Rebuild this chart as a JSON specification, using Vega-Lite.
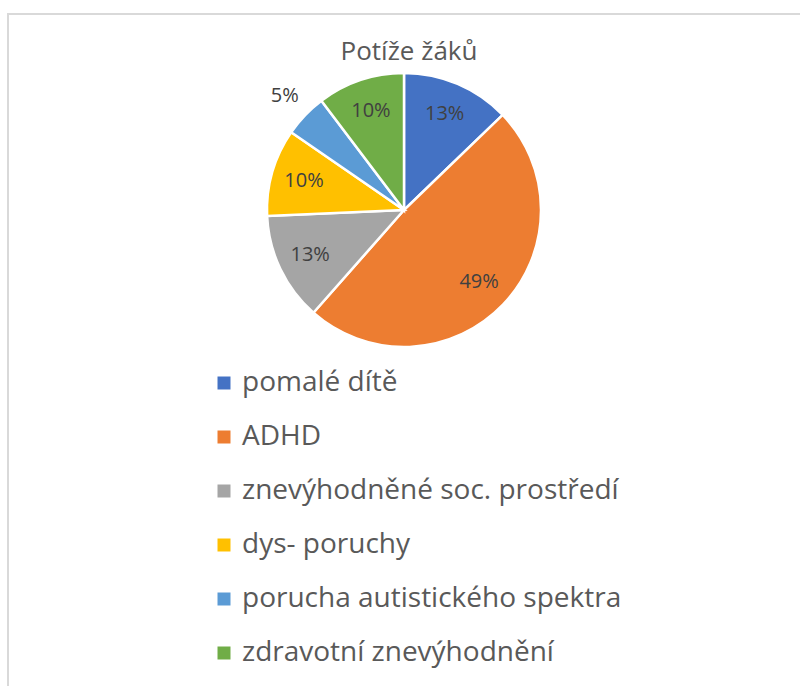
{
  "$schema": "https://vega.github.io/schema/vega-lite/v6.json",
  "width": 792,
  "height": 392,
  "autosize": {"type": "none"},
  "padding": {"left": 8, "top": 14, "right": 2, "bottom": 280},
  "background": "white",
  "view": {"stroke": "#d9d9d9", "strokeWidth": 2, "strokeDash": [792, 1184, 392]},
  "config": {
    "font": "Open Sans",
    "legend": {"strokeColor": "#d9d9d9", "strokeWidth": 2, "strokeDash": [0, 830, 10000]}
  },
  "title": {
    "text": "Potíže žáků",
    "fontSize": 26,
    "fontWeight": "normal",
    "color": "#595959",
    "font": "Open Sans",
    "anchor": "middle",
    "baseline": "alphabetic",
    "offset": -72,
    "dx": 5
  },
  "data": {
    "values": [
      {"category": "pomalé dítě", "share": 0.128, "order": 1},
      {"category": "ADHD", "share": 0.487, "order": 2},
      {"category": "znevýhodněné soc. prostředí", "share": 0.128, "order": 3},
      {"category": "dys- poruchy", "share": 0.103, "order": 4},
      {"category": "porucha autistického spektra", "share": 0.051, "order": 5},
      {"category": "zdravotní znevýhodnění", "share": 0.103, "order": 6}
    ]
  },
  "encoding": {
    "theta": {"field": "share", "type": "quantitative", "stack": true},
    "order": {"field": "order", "type": "quantitative"}
  },
  "layer": [
    {
      "mark": {"type": "arc", "outerRadius": 137, "stroke": "white", "strokeWidth": 2.5},
      "encoding": {
        "color": {
          "field": "category",
          "type": "nominal",
          "sort": ["pomalé dítě", "ADHD", "znevýhodněné soc. prostředí", "dys- poruchy", "porucha autistického spektra", "zdravotní znevýhodnění"],
          "scale": {
            "domain": ["pomalé dítě", "ADHD", "znevýhodněné soc. prostředí", "dys- poruchy", "porucha autistického spektra", "zdravotní znevýhodnění"],
            "range": ["#4472C4", "#ED7D31", "#A5A5A5", "#FFC000", "#5B9BD5", "#70AD47"]
          },
          "legend": {
            "orient": "none",
            "legendX": 0,
            "legendY": 153,
            "direction": "vertical",
            "title": null,
            "symbolType": "square",
            "symbolSize": 169,
            "symbolStrokeWidth": 0,
            "labelFontSize": 28,
            "labelFont": "Open Sans",
            "labelColor": "#595959",
            "rowPadding": 26,
            "labelOffset": 4,
            "padding": 202,
            "labelLimit": 600,
            "strokeColor": "#d9d9d9"
          }
        }
      }
    },
    {
      "mark": {"type": "text", "radius": 104, "fontSize": 20, "color": "#404040", "font": "Open Sans"},
      "encoding": {
        "text": {"field": "share", "type": "quantitative", "format": ".0%", "condition": {"test": "datum.share < 0.06", "value": ""}}
      }
    },
    {
      "mark": {"type": "text", "radius": 165, "fontSize": 20, "color": "#404040", "font": "Open Sans"},
      "encoding": {
        "text": {"field": "share", "type": "quantitative", "format": ".0%", "condition": {"test": "datum.share >= 0.06", "value": ""}}
      }
    }
  ]
}
